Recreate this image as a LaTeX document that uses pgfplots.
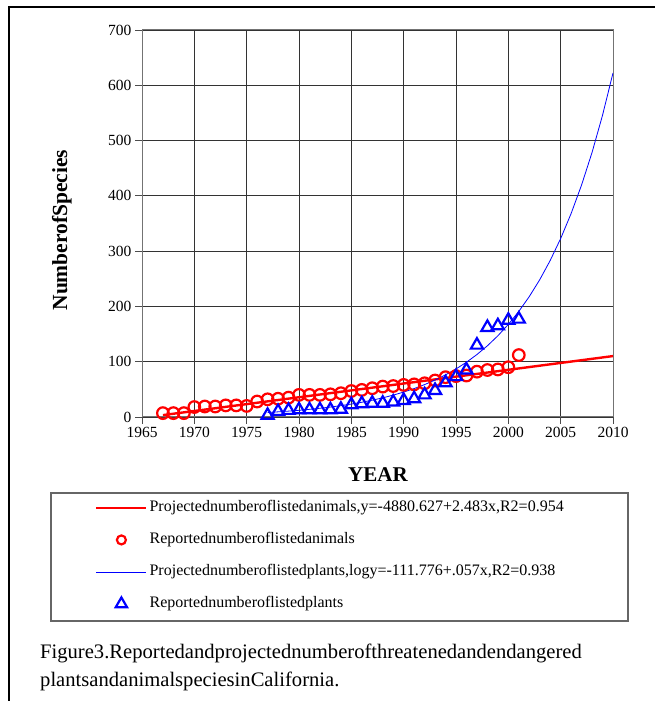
\documentclass[border=0pt]{standalone}
\usepackage{fontspec}
\setmainfont{Liberation Serif}
\usepackage{pgfplots}
\pgfplotsset{compat=1.18}
\pgfplotsset{bigtri/.style={legend image code/.code={\draw[mark repeat=2,mark phase=2,mark size=6.5pt,##1] plot coordinates {(0pt,0pt) (25pt,0pt) (50pt,0pt)};}}}
\begin{document}
\begin{tikzpicture}[x=1pt,y=1pt]
\useasboundingbox (0,0) rectangle (655,701);
\draw[line width=1.3pt] (9,-2) -- (9,694) -- (657,694);
\begin{axis}[
  at={(142pt,284pt)}, anchor=south west,
  width=471pt, height=387pt, scale only axis,
  xmin=1965, xmax=2010, ymin=0, ymax=700,
  xtick={1965,1970,...,2010}, ytick={0,100,...,700},
  xtick pos=lower, ytick pos=left,
  grid=major, major grid style={black!80, line width=0.8pt},
  axis line style={black!55, line width=1pt},
  tick style={black!70, line width=0.8pt},
  tick align=outside, major tick length=7pt,
  /pgf/number format/assume math mode=true,
  /pgf/number format/1000 sep={},
  ticklabel style={font=\fontsize{15.5}{17}\selectfont},
  xlabel={YEAR}, ylabel={NumberofSpecies},
  xlabel style={at={(axis description cs:0.501,-0.150)}, anchor=center, font=\fontsize{21}{24}\selectfont\bfseries},
  ylabel style={at={(axis description cs:-0.170,0.483)}, anchor=center, font=\fontsize{21.5}{24}\selectfont\bfseries},
  legend cell align=left,
  legend image code/.code={\draw[mark repeat=2,mark phase=2,mark size=4.5pt,#1] plot coordinates {(0pt,0pt) (25pt,0pt) (50pt,0pt)};},
  legend style={at={(axis description cs:-0.0998,-0.359)}, anchor=west, draw=none, fill=none,
    inner sep=0pt, row sep=12pt,
    nodes={inner sep=2pt, font=\fontsize{16}{18}\selectfont, text height=12pt, text depth=4pt}},
]
\addplot[red, line width=2.4pt, no marks] coordinates {(1967,3.43) (2010,110.2)};
\addlegendentry{Projectednumberoflistedanimals,y=-4880.627+2.483x,R2=0.954}
\addplot[only marks, red, mark=o, mark size=5.8pt, line width=2.2pt] coordinates {
(1967,7) (1968,7) (1969,7) (1970,18) (1971,19) (1972,19) (1973,21) (1974,21) (1975,20)
(1976,28) (1977,32) (1978,33) (1979,35) (1980,40) (1981,40) (1982,40) (1983,41) (1984,43)
(1985,47) (1986,49) (1987,52) (1988,55) (1989,56) (1990,58) (1991,59) (1992,61) (1993,66)
(1994,72) (1995,74) (1996,75) (1997,82) (1998,85) (1999,86) (2000,90) (2001,112)};
\addlegendentry{Reportednumberoflistedanimals}
\addplot[blue, line width=0.8pt, no marks] coordinates {
(1977,8.19) (1978,9.33) (1979,10.64) (1980,12.13) (1981,13.84) (1982,15.78) (1983,17.99)
(1984,20.51) (1985,23.39) (1986,26.67) (1987,30.41) (1988,34.67) (1989,39.54) (1990,45.08)
(1991,51.40) (1992,58.61) (1993,66.83) (1994,76.21) (1995,86.90) (1996,99.08) (1997,113.0)
(1998,128.8) (1999,146.9) (2000,167.5) (2001,191.0) (2002,217.8) (2003,248.3) (2004,283.1)
(2005,322.8) (2006,368.1) (2007,419.8) (2008,478.6) (2009,545.8) (2010,622.3)};
\addlegendentry{Projectednumberoflistedplants,logy=-111.776+.057x,R2=0.938}
\addplot[only marks, blue, mark=triangle, mark size=7pt, line width=2.2pt, bigtri] coordinates {
(1977,3) (1978,10) (1979,12) (1980,13) (1981,13) (1982,13) (1983,13) (1984,14)
(1985,22) (1986,24) (1987,25) (1988,25) (1989,27) (1990,30) (1991,33) (1992,40)
(1993,48) (1994,62) (1995,73) (1996,85) (1997,130) (1998,162) (1999,165) (2000,175) (2001,177)};
\addlegendentry{Reportednumberoflistedplants}
\end{axis}
\draw[black!60, line width=1.2pt] (51,80) rectangle (628,208);
\node[anchor=base west, inner sep=0pt] at (40,42) {\fontsize{20.6}{24}\selectfont Figure3.Reportedandprojectednumberofthreatenedandendangered};
\node[anchor=base west, inner sep=0pt] at (40,14) {\fontsize{20.6}{24}\selectfont plantsandanimalspeciesinCalifornia.};
\end{tikzpicture}
\end{document}
